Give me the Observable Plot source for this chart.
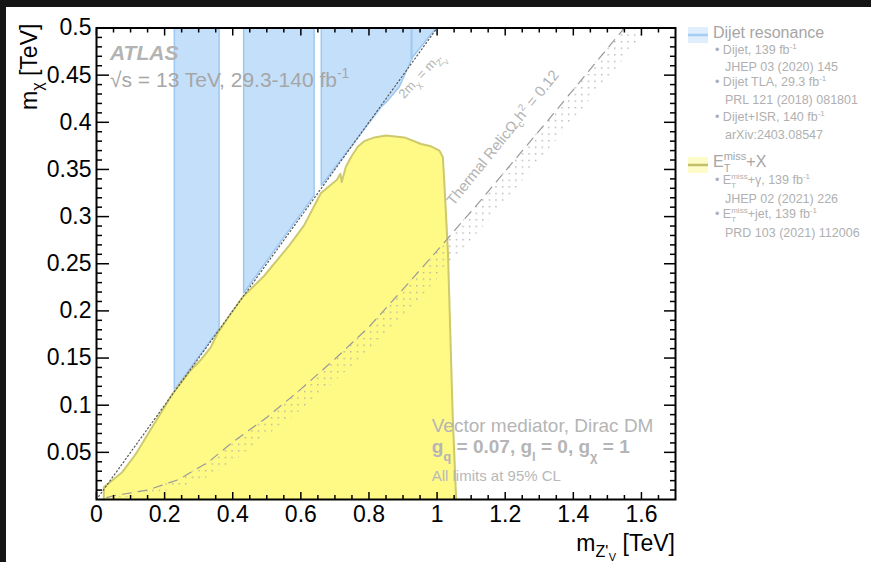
<!DOCTYPE html>
<html><head><meta charset="utf-8">
<script src="https://cdn.jsdelivr.net/npm/d3@7"></script>
<script src="https://cdn.jsdelivr.net/npm/@observablehq/plot@0.6"></script>
<style>
html,body{margin:0;padding:0;background:#151515;width:871px;height:562px;overflow:hidden;}
#panel{position:absolute;left:6px;top:7px;width:865px;height:555px;background:#fff;overflow:hidden;}
#panel > svg{position:absolute;left:0;top:0;}
text{white-space:pre;}
</style></head><body>
<svg width="0" height="0" style="position:absolute"><defs>
<pattern id="relicDots" width="6.6" height="6.6" patternUnits="userSpaceOnUse"><rect x="1" y="1" width="1.3" height="1.3" fill="#a6a6a6"/></pattern>
</defs></svg>
<div id="panel"></div>
<script>
// ---------- data ----------
const xTicks = [0, 0.2, 0.4, 0.6, 0.8, 1, 1.2, 1.4, 1.6];
const xTickLabels = ["0", "0.2", "0.4", "0.6", "0.8", "1", "1.2", "1.4", "1.6"];
const yTicks = [0.05, 0.1, 0.15, 0.2, 0.25, 0.3, 0.35, 0.4, 0.45, 0.5];
const yTickLabels = ["0.05", "0.1", "0.15", "0.2", "0.25", "0.3", "0.35", "0.4", "0.45", "0.5"];

// Dijet resonance excluded regions  [mZ', mchi]
const dijetBandA = [[0.2285,0.5],[0.36,0.5],[0.36,0.181],[0.2285,0.116],[0.2285,0.5]];
const dijetBandB = [[0.432,0.5],[0.639,0.5],[0.639,0.3225],[0.432,0.219],[0.432,0.5]];
const dijetBandC = [[0.66,0.5],[0.997,0.5],[0.928,0.469],[0.889,0.4375],[0.855,0.423],[0.835,0.416],[0.66,0.333],[0.66,0.5]];
const dijetEdge = [[0.925,0.467],[0.925,0.5]];

// ETmiss+X excluded contour
const etmissContour = [
  [0.0215,0],[0.0215,0.013],[0.0755,0.029],[0.115,0.048],[0.169,0.080],[0.223,0.112],
  [0.276,0.137],[0.306,0.148],[0.335,0.161],[0.355,0.176],[0.394,0.197],[0.43,0.215],
  [0.492,0.237],[0.565,0.269],[0.61,0.291],[0.659,0.325],[0.706,0.339],[0.716,0.3455],
  [0.72,0.3366],[0.732,0.3526],[0.747,0.363],[0.767,0.374],[0.786,0.380],[0.816,0.384],
  [0.85,0.386],[0.904,0.384],[0.953,0.377],[0.982,0.3745],[1.007,0.370],[1.017,0.363],
  [1.022,0.331],[1.032,0.261],[1.046,0.087],[1.056,0]
];

// Thermal relic line
const relicLine = [
  [0.03,0.002],[0.05,0.004],[0.15,0.010],[0.24,0.021],[0.33,0.040],[0.40,0.061],[0.50,0.087],
  [0.60,0.117],[0.70,0.149],[0.80,0.183],[0.90,0.223],[1.01,0.268],[1.13,0.318],[1.33,0.404],[1.55,0.5]
];
const relicHatchWidth = 0.075;

// kinematic limit 2 mchi = mZ'
const kinematicLimit = [[0,0],[1.0,0.5]];

// ---------- styles ----------
const FONT = "'Liberation Sans', Arial, Helvetica, sans-serif";
const blueFill = "#c4dffa", blueEdge = "#9dc8f2";
const yellowFill = "#fffa86", yellowEdge = "#cdc96c";

const xMinor = d3.range(1, 34).map(i => i * 0.05).filter(v => Math.abs(v / 0.2 - Math.round(v / 0.2)) > 1e-6);
const yMinor = d3.range(1, 50).map(i => i * 0.01).filter(v => Math.abs(v / 0.05 - Math.round(v / 0.05)) > 1e-6);

const px = d => d[0], py = d => d[1];

const plot = Plot.plot({
  width: 865, height: 555,
  marginLeft: 90, marginRight: 196, marginTop: 20.5, marginBottom: 63,
  x: {domain: [0, 1.7]},
  y: {domain: [0, 0.5]},
  style: {fontFamily: FONT, fontSize: "23px", color: "black", background: "transparent", overflow: "visible"},
  marks: [
    ...[dijetBandA, dijetBandB, dijetBandC].map(b =>
      Plot.line(b, {x: px, y: py, fill: blueFill, stroke: blueEdge, strokeWidth: 1.5})),
    Plot.line(dijetEdge, {x: px, y: py, stroke: blueEdge, strokeWidth: 2}),
    Plot.line(etmissContour, {x: px, y: py, fill: yellowFill, stroke: yellowEdge, strokeWidth: 2}),
    Plot.areaX(relicLine, {y: py, x1: px, x2: d => d[0] + relicHatchWidth, fill: "url(#relicDots)", clip: true}),
    Plot.line(relicLine, {x: px, y: py, stroke: "#9a9a9a", strokeWidth: 1.2, strokeDasharray: "9,7", clip: true}),
    Plot.line(kinematicLimit, {x: px, y: py, stroke: "#555", strokeWidth: 1.2, strokeDasharray: "1.2,2.6"}),
    Plot.frame({stroke: "black", strokeWidth: 2}),
    // ticks (inward)
    Plot.axisX(xTicks, {anchor: "bottom", tickSize: 7, dy: -7, fill: "none", label: null, strokeWidth: 1.5}),
    Plot.axisX(xMinor, {anchor: "bottom", tickSize: 4, dy: -4, fill: "none", label: null, strokeWidth: 1.5}),
    Plot.axisX(xTicks, {anchor: "top", tickSize: 7, dy: 7, fill: "none", label: null, strokeWidth: 1.5}),
    Plot.axisX(xMinor, {anchor: "top", tickSize: 4, dy: 4, fill: "none", label: null, strokeWidth: 1.5}),
    Plot.axisY(yTicks, {anchor: "left", tickSize: 13, dx: 13, fill: "none", label: null, strokeWidth: 1.5}),
    Plot.axisY(yMinor, {anchor: "left", tickSize: 6, dx: 6, fill: "none", label: null, strokeWidth: 1.5}),
    Plot.axisY(yTicks, {anchor: "right", tickSize: 12, dx: -12, fill: "none", label: null, strokeWidth: 1.5}),
    Plot.axisY(yMinor, {anchor: "right", tickSize: 6, dx: -6, fill: "none", label: null, strokeWidth: 1.5}),
    // tick labels
    Plot.axisX(xTicks, {anchor: "bottom", tickSize: 0, tickPadding: 6, label: null,
      tickFormat: d => xTickLabels[xTicks.indexOf(d)]}),
    Plot.axisY(yTicks, {anchor: "left", tickSize: 0, tickPadding: 5, label: null,
      tickFormat: d => yTickLabels[yTicks.indexOf(d)]})
  ]
});
const panel = document.getElementById("panel");
panel.appendChild(plot);

// ---------- text overlay ----------
const ov = d3.select(panel).append("svg").attr("width", 865).attr("height", 555)
  .style("pointer-events", "none").attr("font-family", FONT);

function rich(x, y, parts, o = {}) {
  const size = o.size || 16;
  const small = o.small || Math.round(size * 0.68);
  const outer = ov.append("g").attr("transform", `translate(${x},${y}) rotate(${o.rotate || 0})`);
  const g = outer.append("g").attr("fill", o.fill || "#000")
    .attr("font-weight", o.weight || "normal").attr("font-style", o.style || "normal");
  let cx = 0;
  const add = (str, sz, dy, w) => {
    const t = g.append("text").attr("x", cx).attr("y", dy).attr("font-size", sz).text(str);
    if (w) t.attr("font-weight", w);
    return t.node().getComputedTextLength();
  };
  for (const p of parts) {
    if (typeof p === "string") { cx += add(p, size, 0); continue; }
    cx += p.dx || 0;
    let w = 0;
    const sz = p.size || small;
    if (p.sub != null) w = Math.max(w, add(p.sub, sz, p.subDy != null ? p.subDy : size * 0.3, p.weight));
    if (p.sup != null) w = Math.max(w, add(p.sup, sz, p.supDy != null ? p.supDy : -size * 0.4, p.weight));
    cx += w;
  }
  if (o.anchor === "end") g.attr("transform", `translate(${-cx},0)`);
  if (o.anchor === "middle") g.attr("transform", `translate(${-cx / 2},0)`);
  return cx;
}

// axis titles
rich(31, 103, ["m", {sub: "χ", size: 16, subDy: 6}, " [TeV]"], {size: 23, rotate: -90});
rich(669, 544, ["m", {sub: "Z'", size: 16, subDy: 6}, {sub: "V", size: 11, subDy: 10, dx: 0.5}, " [TeV]"], {size: 23, anchor: "end"});

// in-plot annotations
rich(104, 53, ["ATLAS"], {size: 21, weight: "bold", style: "italic", fill: "#b3b3b3"});
rich(104, 80, ["√s = 13 TeV, 29.3-140 fb", {sup: "-1", size: 14, supDy: -9}], {size: 21, fill: "#a6a6a6"});
rich(418, 71, ["2m", {sub: "χ", size: 9, subDy: 4}, " = m", {sub: "Z'", size: 9, subDy: 4}, {sub: "V", size: 7, subDy: 8, dx: -2}],
  {size: 13, rotate: -47, anchor: "middle", fill: "#b3b3b3"});
rich(500.6, 133.8, ["Thermal RelicΩ", {sub: "c", size: 10, subDy: 4}, "h", {sup: "2", size: 10, supDy: -6}, " = 0.12"],
  {size: 15, rotate: -51, anchor: "middle", fill: "#b3b3b3"});
rich(425.7, 424.7, ["Vector mediator, Dirac DM"], {size: 19, fill: "#b5b5b5"});
rich(425.7, 446.3, ["g", {sub: "q", size: 13, subDy: 8}, " = 0.07, g", {sub: "l", size: 13, subDy: 8}, " = 0, g", {sub: "χ", size: 13, subDy: 8}, " = 1"],
  {size: 19, weight: "bold", fill: "#b5b5b5"});
rich(425.7, 473.7, ["All limits at 95% CL"], {size: 15, fill: "#b8b8b8"});

// legend
const lg = ov.append("g");
lg.append("rect").attr("x", 682).attr("y", 20).attr("width", 20).attr("height", 16).attr("fill", "#dfedfc");
lg.append("line").attr("x1", 682).attr("x2", 702).attr("y1", 28).attr("y2", 28).attr("stroke", "#a6cef5").attr("stroke-width", 2.5);
lg.append("rect").attr("x", 682).attr("y", 150).attr("width", 20).attr("height", 16).attr("fill", "#fdfbc8");
lg.append("line").attr("x1", 682).attr("x2", 702).attr("y1", 158).attr("y2", 158).attr("stroke", "#c3bf68").attr("stroke-width", 2.5);

const head = "#a6a6a6", item = "#b0b0b0";
rich(707, 31, ["Dijet resonance"], {size: 16, fill: head});
rich(709, 47, ["• Dijet, 139 fb", {sup: "-1", size: 8, supDy: -5}], {size: 12.5, fill: item});
rich(719, 64, ["JHEP 03 (2020) 145"], {size: 12.5, fill: item});
rich(709, 79, ["• Dijet TLA, 29.3 fb", {sup: "-1", size: 8, supDy: -5}], {size: 12.5, fill: item});
rich(719, 97, ["PRL 121 (2018) 081801"], {size: 12.5, fill: item});
rich(709, 114, ["• Dijet+ISR, 140 fb", {sup: "-1", size: 8, supDy: -5}], {size: 12.5, fill: item});
rich(719, 132, ["arXiv:2403.08547"], {size: 12.5, fill: item});
rich(707, 160, ["E", {sub: "T", sup: "miss", size: 11, subDy: 5, supDy: -7}, "+X"], {size: 16, fill: head});
rich(709, 177, ["• E", {sub: "T", sup: "miss", size: 8, subDy: 4, supDy: -5}, "+γ, 139 fb", {sup: "-1", size: 8, supDy: -5}], {size: 12.5, fill: item});
rich(719, 196, ["JHEP 02 (2021) 226"], {size: 12.5, fill: item});
rich(709, 211, ["• E", {sub: "T", sup: "miss", size: 8, subDy: 4, supDy: -5}, "+jet, 139 fb", {sup: "-1", size: 8, supDy: -5}], {size: 12.5, fill: item});
rich(719, 230, ["PRD 103 (2021) 112006"], {size: 12.5, fill: item});
</script>
</body></html>
